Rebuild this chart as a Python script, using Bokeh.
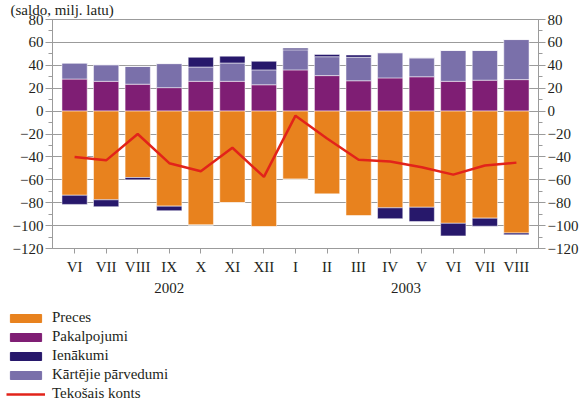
from bokeh.plotting import figure
from bokeh.layouts import column
from bokeh.models import (FactorRange, Range1d, LinearAxis, SingleIntervalTicker,
                          Legend, LegendItem, ColumnDataSource)
from bokeh.embed import file_html
from bokeh.resources import INLINE

# ---- data (milj. latu) ----
years = ["2002"] * 7 + ["2003"] * 8
months = ["VI", "VII", "VIII", "IX", "X", "XI", "XII",
          "I", "II", "III", "IV", "V", "VI", "VII", "VIII"]
preces = [-73.5, -77.5, -58, -83, -99.5, -80, -101,
          -59.5, -72.5, -91.5, -84.5, -84, -98, -93.5, -106.5]
pakalpojumi = [28, 26, 23.5, 20.5, 26, 26, 23,
               36, 31, 26.5, 29, 30, 26, 27, 27.5]
ienakumi = [-8, -6, -2, -4, 8.5, 6, 7.5,
            1.5, 2, 2, -9.5, -12.5, -11, -7, -1.5]
parvedumi = [14, 14.5, 15.5, 21, 12.5, 16, 13,
             17.5, 16.5, 20.5, 22, 16.5, 27, 26, 35]
konts = [-40, -43, -20, -45.5, -52.5, -32, -57.5,
         -4, -24, -42.5, -44, -49, -55.5, -47.5, -45]

title_text = "(saldo, milj. latu)"
series_names = ["Preces", "Pakalpojumi", "Ienākumi", "Kārtējie pārvedumi", "Tekošais konts"]

C_PRECES = "#e8821e"
C_PAK = "#7f1e74"
C_IEN = "#27186b"
C_PAR = "#7a70aa"
C_LINE = "#e2231a"
TEXT = "#231f20"
GRID = "#9b9b9b"
FONT = "Liberation Serif"

factors = list(zip(years, months))
src = ColumnDataSource(dict(
    x=factors,
    pre=preces,
    pak=pakalpojumi,
    par=parvedumi,
    ien=ienakumi,
    ien_pos=[max(v, 0) for v in ienakumi],
    ien_neg=[min(v, 0) for v in ienakumi],
    konts=konts,
))

W = 582
xr = FactorRange(*factors, group_padding=0, range_padding=0.2,
                 range_padding_units="absolute")
p = figure(width=W, height=300, x_range=xr, y_range=Range1d(-120, 80),
           output_backend="svg", toolbar_location=None,
           min_border_left=52, min_border_right=44,
           min_border_top=19, min_border_bottom=52)
p.frame_align = False
p.background_fill_color = "white"
p.border_fill_color = "white"
p.outline_line_color = GRID

p.title.text = title_text
p.title.align = "left"
p.title.offset = -42
p.title.standoff = 0
p.title.vertical_align = "top"
p.title.text_font = FONT
p.title.text_font_size = "15px"
p.title.text_font_style = "normal"
p.title.text_color = TEXT

pos = p.vbar_stack(["pak", "par", "ien_pos"], x="x", width=0.8, source=src,
                   color=[C_PAK, C_PAR, C_IEN], line_color="white", line_alpha=0.5)
neg = p.vbar_stack(["pre", "ien_neg"], x="x", width=0.8, source=src,
                   color=[C_PRECES, C_IEN], line_color="white", line_alpha=0.5)
ln = p.line(x="x", y="konts", source=src, line_color=C_LINE, line_width=2.5)

ticker = SingleIntervalTicker(interval=20, num_minor_ticks=2)
p.yaxis.ticker = ticker
p.ygrid.ticker = ticker
p.ygrid.grid_line_color = GRID
p.xgrid.grid_line_color = None

right = LinearAxis(ticker=ticker)
p.add_layout(right, "right")

for ax in [p.yaxis[0], right]:
    ax.major_label_text_font = FONT
    ax.major_label_text_font_size = "15px"
    ax.major_label_text_color = TEXT
    ax.axis_line_color = GRID
    ax.major_tick_line_color = GRID
    ax.minor_tick_line_color = GRID
    ax.major_tick_in = 0
    ax.major_tick_out = 7
    ax.minor_tick_in = 0
    ax.minor_tick_out = 4
    ax.major_label_standoff = 2

xa = p.xaxis[0]
xa.major_label_text_font = FONT
xa.major_label_text_font_size = "15px"
xa.major_label_text_color = TEXT
xa.group_text_font = FONT
xa.group_text_font_size = "15px"
xa.group_text_color = TEXT
xa.group_text_font_style = "normal"
xa.separator_line_color = None
xa.axis_line_color = GRID
xa.major_tick_line_color = GRID
xa.major_tick_in = 0
xa.major_tick_out = 5
xa.major_label_standoff = 5

# ---- legend strip below the chart (hidden copies of the series give the keys) ----
lg = figure(width=W, height=101, x_range=xr, y_range=Range1d(0, 1),
            x_axis_type=None, y_axis_type=None,
            output_backend="svg", toolbar_location=None, min_border=0)
lg.frame_align = False
lg.outline_line_color = None
lg.xgrid.grid_line_color = None
lg.ygrid.grid_line_color = None
lg.background_fill_color = "white"
lg.border_fill_color = "white"

r_pre = lg.vbar(x="x", top="pre", width=0.8, source=src, color=C_PRECES, visible=False)
r_pak = lg.vbar(x="x", top="pak", width=0.8, source=src, color=C_PAK, visible=False)
r_ien = lg.vbar(x="x", top="ien", width=0.8, source=src, color=C_IEN, visible=False)
r_par = lg.vbar(x="x", top="par", width=0.8, source=src, color=C_PAR, visible=False)
r_ln = lg.line(x="x", y="konts", source=src, line_color=C_LINE, line_width=2.5, visible=False)

legend = Legend(items=[
    LegendItem(label=series_names[0], renderers=[r_pre]),
    LegendItem(label=series_names[1], renderers=[r_pak]),
    LegendItem(label=series_names[2], renderers=[r_ien]),
    LegendItem(label=series_names[3], renderers=[r_par]),
    LegendItem(label=series_names[4], renderers=[r_ln]),
], location=(6, -2), orientation="vertical")
legend.padding = 0
legend.margin = 0
legend.spacing = 0
legend.border_line_color = None
legend.background_fill_alpha = 0
legend.inactive_fill_alpha = 0
legend.glyph_width = 39
legend.glyph_height = 10
legend.label_height = 19
legend.label_standoff = 7
legend.label_text_font = FONT
legend.label_text_font_size = "15px"
legend.label_text_color = TEXT
legend.label_text_baseline = "middle"
lg.add_layout(legend, "center")

layout = column(p, lg, spacing=0)
open("out.html", "w").write(file_html(layout, INLINE))
